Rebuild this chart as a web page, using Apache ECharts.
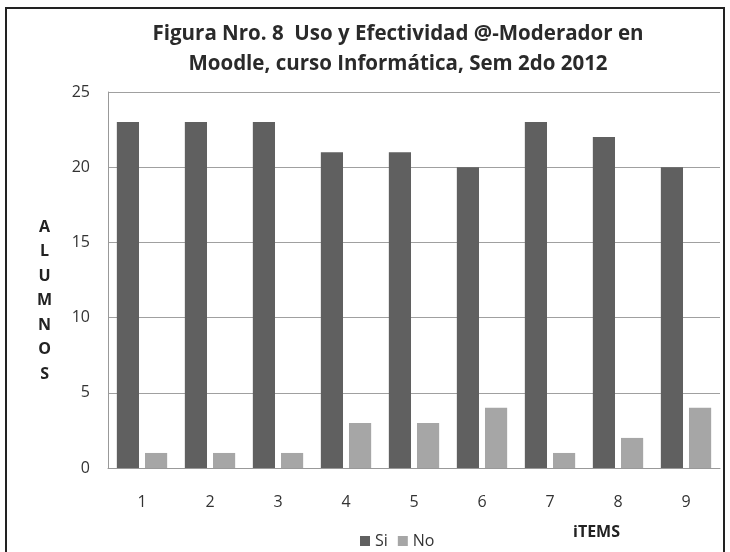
<!DOCTYPE html>
<html>
<head>
<meta charset="utf-8">
<script src="https://cdn.jsdelivr.net/npm/echarts@6/dist/echarts.min.js"></script>
<style>
  html, body { margin: 0; padding: 0; background: #fff; }
  #frame {
    position: absolute; left: 5px; top: 7px; width: 720px; height: 560px;
    border: 2px solid #222; box-sizing: border-box;
  }
  #chart { position: absolute; left: 0; top: 0; width: 730px; height: 552px; }
</style>
</head>
<body>
<div id="frame"></div>
<div id="chart"></div>
<script>
// datos
const items = ['1', '2', '3', '4', '5', '6', '7', '8', '9']
const si = [23, 23, 23, 21, 21, 20, 23, 22, 20]
const no = [1, 1, 1, 3, 3, 4, 1, 2, 4]

const font = '"Open Sans", sans-serif'
const chart = echarts.init(document.getElementById('chart'))

chart.setOption({
  animation: false,
  title: {
    text: 'Figura Nro. 8  Uso y Efectividad @-Moderador en\nMoodle, curso Informática, Sem 2do 2012',
    left: 393,
    top: 14,
    textAlign: 'center',
    textStyle: { fontFamily: font, fontSize: 20.5, fontWeight: 'bold', color: '#2a2a2a', lineHeight: 30 },
  },
  grid: { left: 108, right: 10, top: 92, bottom: 84 },
  legend: {
    data: ['Si', 'No'],
    left: 355,
    top: 528,
    itemWidth: 10,
    itemHeight: 10,
    itemGap: 10,
    icon: 'rect',
    textStyle: { fontFamily: font, fontSize: 16, color: '#333', padding: [0, 0, 0, 0] },
  },
  xAxis: {
    type: 'category',
    data: items,
    axisLine: { lineStyle: { color: '#999' } },
    axisTick: { show: false },
    axisLabel: { fontFamily: font, fontSize: 16, color: '#333', margin: 26 },
  },
  yAxis: {
    type: 'value',
    min: 0,
    max: 25,
    interval: 5,
    axisLine: { show: true, lineStyle: { color: '#999' } },
    axisLabel: { fontFamily: font, fontSize: 16, color: '#333', margin: 18 },
    splitLine: { lineStyle: { color: '#a0a0a0' } },
  },
  graphic: [
    {
      type: 'text',
      left: 37,
      top: 215,
      style: {
        text: 'A\nL\nU\nM\nN\nO\nS',
        font: 'bold 16px ' + font,
        fill: '#222',
        lineHeight: 24.5,
        textAlign: 'center',
      },
    },
    {
      type: 'text',
      left: 573,
      top: 524,
      style: { text: 'iTEMS', font: 'bold 16px ' + font, fill: '#222' },
    },
  ],
  series: [
    {
      name: 'Si',
      type: 'bar',
      data: si,
      barGap: '27%',
      barCategoryGap: '26%',
      itemStyle: { color: '#606060' },
    },
    {
      name: 'No',
      type: 'bar',
      data: no,
      itemStyle: { color: '#a6a6a6' },
    },
  ],
})
</script>
</body>
</html>
